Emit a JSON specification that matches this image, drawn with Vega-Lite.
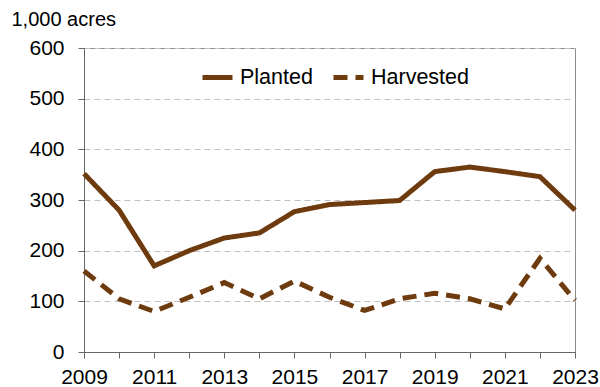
{
  "$schema": "https://vega.github.io/schema/vega-lite/v6.json",
  "width": 491,
  "height": 304,
  "autosize": {"type": "none"},
  "padding": {"left": 84, "top": 48, "right": 25, "bottom": 35},
  "background": "white",
  "config": {
    "font": "Liberation Sans",
    "view": {"stroke": "#8c8c8c", "strokeWidth": 1},
    "axis": {
      "labelFont": "Liberation Sans",
      "labelFontSize": 21,
      "labelColor": "#000000",
      "domainColor": "#666666",
      "tickColor": "#666666",
      "tickSize": 6,
      "gridColor": "#c0c0c0",
      "gridDash": [6, 4],
      "gridWidth": 1
    }
  },
  "data": {
    "values": [
      {"year": 2009, "series": "Planted", "value": 352},
      {"year": 2010, "series": "Planted", "value": 280},
      {"year": 2011, "series": "Planted", "value": 170},
      {"year": 2012, "series": "Planted", "value": 200},
      {"year": 2013, "series": "Planted", "value": 225},
      {"year": 2014, "series": "Planted", "value": 235},
      {"year": 2015, "series": "Planted", "value": 277},
      {"year": 2016, "series": "Planted", "value": 291},
      {"year": 2017, "series": "Planted", "value": 295},
      {"year": 2018, "series": "Planted", "value": 299},
      {"year": 2019, "series": "Planted", "value": 356},
      {"year": 2020, "series": "Planted", "value": 365},
      {"year": 2021, "series": "Planted", "value": 356},
      {"year": 2022, "series": "Planted", "value": 346},
      {"year": 2023, "series": "Planted", "value": 280},
      {"year": 2009, "series": "Harvested", "value": 160},
      {"year": 2010, "series": "Harvested", "value": 105},
      {"year": 2011, "series": "Harvested", "value": 80},
      {"year": 2012, "series": "Harvested", "value": 108},
      {"year": 2013, "series": "Harvested", "value": 137},
      {"year": 2014, "series": "Harvested", "value": 105},
      {"year": 2015, "series": "Harvested", "value": 140},
      {"year": 2016, "series": "Harvested", "value": 108},
      {"year": 2017, "series": "Harvested", "value": 82},
      {"year": 2018, "series": "Harvested", "value": 105},
      {"year": 2019, "series": "Harvested", "value": 116},
      {"year": 2020, "series": "Harvested", "value": 105},
      {"year": 2021, "series": "Harvested", "value": 85},
      {"year": 2022, "series": "Harvested", "value": 185},
      {"year": 2023, "series": "Harvested", "value": 102}
    ]
  },
  "mark": {"type": "line", "color": "#6E3B0E", "strokeWidth": 5, "strokeCap": "butt"},
  "encoding": {
    "x": {
      "field": "year",
      "type": "quantitative",
      "scale": {"domain": [2009, 2023], "nice": false, "zero": false},
      "axis": {
        "title": null,
        "grid": false,
        "values": [2009, 2010, 2011, 2012, 2013, 2014, 2015, 2016, 2017, 2018, 2019, 2020, 2021, 2022, 2023],
        "format": "d",
        "labelExpr": "datum.value % 2 == 1 ? datum.label : ''",
        "labelPadding": 8,
        "labelOverlap": false,
        "labelFlush": false
      }
    },
    "y": {
      "field": "value",
      "type": "quantitative",
      "scale": {"domain": [0, 600], "nice": false},
      "axis": {
        "values": [0, 100, 200, 300, 400, 500, 600],
        "title": "1,000 acres",
        "titleAngle": 0,
        "titleAlign": "left",
        "titleBaseline": "alphabetic",
        "titleX": -73,
        "titleY": -23,
        "titleFontSize": 20,
        "titleFontWeight": "normal",
        "titleColor": "#000000",
        "titleFont": "Liberation Sans",
        "labelPadding": 14
      }
    },
    "strokeDash": {
      "field": "series",
      "type": "nominal",
      "scale": {"domain": ["Planted", "Harvested"], "range": [[1, 0], [14, 8]]},
      "legend": {
        "title": null,
        "orient": "none",
        "legendX": 116,
        "legendY": 12,
        "direction": "horizontal",
        "gridAlign": "none",
        "symbolType": "stroke",
        "symbolSize": 900,
        "symbolStrokeWidth": 5,
        "symbolStrokeColor": "#6E3B0E",
        "labelFontSize": 21.5,
        "labelFont": "Liberation Sans",
        "labelColor": "#000000",
        "labelOffset": 5,
        "columnPadding": 10
      }
    }
  }
}
